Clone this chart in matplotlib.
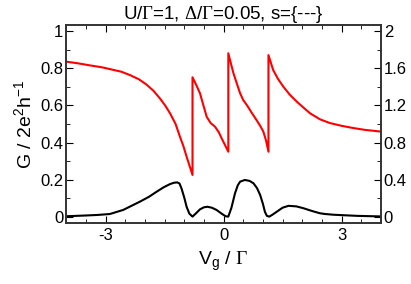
import matplotlib
matplotlib.use("Agg")
import matplotlib.pyplot as plt
from matplotlib.ticker import MultipleLocator, FormatStrFormatter

plt.rcParams['font.family'] = ['Liberation Sans', 'DejaVu Sans']
plt.rcParams['mathtext.fontset'] = 'custom'
plt.rcParams['mathtext.rm'] = 'Liberation Serif'
plt.rcParams['mathtext.sf'] = 'Liberation Sans'
plt.rcParams['axes.unicode_minus'] = False

# red curve, vertical jumps as repeated x
vg_red = [-4.0, -3.7, -3.4, -3.1, -2.89, -2.6, -2.38, -2.15, -1.96, -1.78, -1.62,
          -1.48, -1.36, -1.22, -1.11, -1.02, -0.94, -0.86, -0.79,
          -0.79, -0.70, -0.60, -0.52, -0.43, -0.33, -0.22, -0.12, -0.05, 0.04, 0.12,
          0.12, 0.18, 0.25, 0.34, 0.42, 0.50, 0.59, 0.70, 0.84, 0.93, 1.01, 1.08, 1.14,
          1.14, 1.20, 1.26, 1.38, 1.52, 1.68, 1.86, 2.03, 2.20, 2.45, 2.7, 3.0, 3.3, 3.6, 4.0]
g_red = [0.835, 0.826, 0.815, 0.805, 0.795, 0.781, 0.763, 0.740, 0.712, 0.678, 0.638,
         0.598, 0.557, 0.500, 0.432, 0.380, 0.324, 0.272, 0.226,
         0.751, 0.712, 0.665, 0.605, 0.539, 0.505, 0.486, 0.455, 0.423, 0.385, 0.351,
         0.880, 0.830, 0.773, 0.715, 0.665, 0.628, 0.602, 0.565, 0.520, 0.490, 0.459, 0.410, 0.351,
         0.870, 0.830, 0.790, 0.743, 0.700, 0.658, 0.620, 0.588, 0.557, 0.525, 0.505, 0.490, 0.478, 0.468, 0.459]

# black curve
vg_blk = [-4.0, -3.5, -3.2, -2.89, -2.55, -2.13, -1.90, -1.70, -1.52, -1.36, -1.26, -1.18,
          -1.12, -1.07, -1.00, -0.94, -0.87, -0.79, -0.70, -0.60, -0.50, -0.41, -0.30,
          -0.18, -0.05, 0.05, 0.12, 0.20, 0.29, 0.36, 0.42, 0.54, 0.66, 0.76, 0.85, 0.93,
          1.00, 1.05, 1.10, 1.16, 1.24, 1.35, 1.50, 1.65, 1.85, 2.03, 2.25, 2.45, 2.58,
          2.8, 3.0, 3.4, 4.0]
g_blk = [0.004, 0.008, 0.011, 0.016, 0.038, 0.082, 0.108, 0.136, 0.160, 0.177, 0.184, 0.186,
         0.180, 0.154, 0.105, 0.055, 0.018, 0.002, 0.020, 0.041, 0.052, 0.055, 0.050,
         0.038, 0.018, 0.004, 0.002, 0.050, 0.127, 0.170, 0.190, 0.199, 0.194, 0.181, 0.155, 0.118,
         0.070, 0.028, 0.006, 0.002, 0.012, 0.028, 0.050, 0.060, 0.057, 0.047, 0.032, 0.020, 0.016,
         0.012, 0.010, 0.006, 0.003]

fig = plt.figure(figsize=(4.11, 2.84), dpi=100)
ax = fig.add_axes([0.161, 0.215, 0.766, 0.697])
ax.plot(vg_red, g_red, color='#ff0000', lw=1.5)
ax.plot(vg_blk, g_blk, color='black', lw=1.5)

ax.set_xlim(-4, 4)
ax.set_ylim(-0.032, 1.032)
ax.xaxis.set_major_locator(MultipleLocator(3))
ax.xaxis.set_minor_locator(MultipleLocator(0.5))
ax.yaxis.set_major_locator(MultipleLocator(0.2))
ax.yaxis.set_minor_locator(MultipleLocator(0.1))
ax.yaxis.set_major_formatter(FormatStrFormatter('%g'))
ax.tick_params(which='both', direction='in', top=True, labelsize=12, pad=2)
ax.tick_params(which='major', length=5)
ax.tick_params(which='minor', length=3)
ax.tick_params(axis='x', pad=4)

ax2 = ax.twinx()
ax2.set_ylim(-0.064, 2.064)
ax2.yaxis.set_major_locator(MultipleLocator(0.4))
ax2.yaxis.set_minor_locator(MultipleLocator(0.2))
ax2.yaxis.set_major_formatter(FormatStrFormatter('%g'))
ax2.tick_params(which='both', direction='in', labelsize=12, pad=2)
ax2.tick_params(which='major', length=5)
ax2.tick_params(which='minor', length=3)

for a in (ax, ax2):
    for s in a.spines.values():
        s.set_linewidth(1.2)
        s.set_color('#333333')

ax.set_title(r'U/$\Gamma$=1, $\Delta$/$\Gamma$=0.05, s={---}', fontsize=13.5, pad=4)
ax.set_xlabel(r'V$_\mathsf{g}$ / $\Gamma$', fontsize=14, labelpad=4)
ax.set_ylabel(r'G / 2e$^\mathsf{2}$h$^\mathsf{-1}$', fontsize=14, labelpad=3)

fig.savefig('out.png', dpi=100)
